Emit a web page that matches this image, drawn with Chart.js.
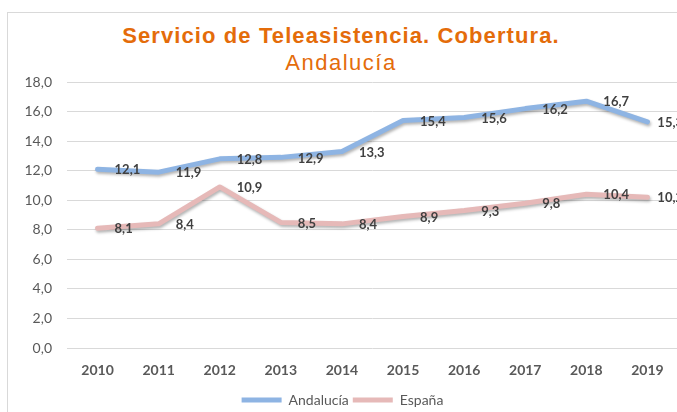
<!DOCTYPE html>
<html>
<head>
<meta charset="utf-8">
<script src="https://cdn.jsdelivr.net/npm/chart.js@4.4.1/dist/chart.umd.min.js"></script>
<style>
  body { margin: 0; overflow: hidden; background: #fff; width: 677px; height: 412px; position: relative; }
  #marco { position: absolute; left: 7px; top: 12px; width: 800px; height: 500px; border: 1px solid #d9d9d9; }
  .titulo { position: absolute; left: 0; width: 682px; text-align: center; color: #e46c0a;
            font-family: "Liberation Sans", Arial, sans-serif; font-size: 22px; line-height: 22px; }
  #t1 { top: 25px; font-weight: bold; letter-spacing: 1.1px; }
  #t2 { top: 52px; letter-spacing: 1.5px; }
  #caja { position: absolute; left: 0; top: 0; width: 720px; height: 417px; }
</style>
</head>
<body>
<div id="marco"></div>
<div class="titulo" id="t1">Servicio de Teleasistencia. Cobertura.</div>
<div class="titulo" id="t2">Andalucía</div>
<div id="caja"><canvas id="grafica"></canvas></div>
<script>
// Datos
const anios = ['2010', '2011', '2012', '2013', '2014', '2015', '2016', '2017', '2018', '2019'];
const andalucia = [12.1, 11.9, 12.8, 12.9, 13.3, 15.4, 15.6, 16.2, 16.7, 15.3];
const espana = [8.1, 8.4, 10.9, 8.5, 8.4, 8.9, 9.3, 9.8, 10.4, 10.2];
const ejeMin = 0;
const ejeMax = 18;
const ejePaso = 2;

const formato = v => v.toFixed(1).replace('.', ',');

// Sombra suave debajo de cada línea
const sombra = {
    id: 'sombra',
    beforeDatasetDraw(chart) {
        const c = chart.ctx;
        c.save();
        c.shadowColor = 'rgba(0,0,0,0.3)';
        c.shadowBlur = 3;
        c.shadowOffsetX = 1;
        c.shadowOffsetY = 2;
    },
    afterDatasetDraw(chart) {
        chart.ctx.restore();
    }
};

// Etiquetas de valor a la derecha de cada punto (sin salirse del área)
const etiquetas = {
    id: 'etiquetas',
    afterDatasetsDraw(chart) {
        const c = chart.ctx;
        const limite = chart.chartArea.right + 5;
        c.save();
        c.font = 'bold 13px Lato';
        c.fillStyle = '#404040';
        c.textAlign = 'left';
        c.textBaseline = 'middle';
        chart.data.datasets.forEach((ds, i) => {
            chart.getDatasetMeta(i).data.forEach((pt, j) => {
                const txt = formato(ds.data[j]);
                const x = Math.min(pt.x + 17, limite - c.measureText(txt).width);
                c.fillText(txt, x, pt.y + 1);
            });
        });
        c.restore();
    }
};

const ctx = document.getElementById('grafica').getContext('2d');
new Chart(ctx, {
    type: 'line',
    data: {
        labels: anios,
        datasets: [{
            label: 'Andalucía',
            data: andalucia,
            borderColor: 'rgb(142,180,227)',
            backgroundColor: 'rgb(142,180,227)',
            borderWidth: 5,
            pointRadius: 0,
            tension: 0,
            borderJoinStyle: 'round',
            borderCapStyle: 'round'
        }, {
            label: 'España',
            data: espana,
            borderColor: 'rgb(230,185,184)',
            backgroundColor: 'rgb(230,185,184)',
            borderWidth: 5,
            pointRadius: 0,
            tension: 0,
            borderJoinStyle: 'round',
            borderCapStyle: 'round'
        }]
    },
    options: {
        responsive: true,
        maintainAspectRatio: false,
        animation: false,
        layout: { padding: { left: 7, right: 42, top: 82, bottom: 0 } },
        plugins: {
            title: { display: false },
            tooltip: { enabled: false },
            legend: {
                position: 'bottom',
                labels: {
                    boxWidth: 40,
                    boxHeight: 5,
                    padding: 4,
                    color: '#595959',
                    font: { family: 'Lato', size: 14 },
                    generateLabels(chart) {
                        return chart.data.datasets.map((ds, i) => ({
                            text: ds.label,
                            fillStyle: ds.borderColor,
                            strokeStyle: ds.borderColor,
                            lineWidth: 0,
                            fontColor: '#595959',
                            datasetIndex: i
                        }));
                    }
                }
            }
        },
        scales: {
            x: {
                offset: true,
                grid: { display: false, drawTicks: false },
                border: { display: false },
                ticks: {
                    padding: 14,
                    color: '#595959',
                    font: { family: 'Lato', size: 14, weight: 'bold' }
                },
                afterFit(s) {
                    s.height = 417 - 348 - s.chart.legend.height;
                }
            },
            y: {
                min: ejeMin,
                max: ejeMax,
                border: { display: false },
                grid: { color: '#d9d9d9', drawTicks: false },
                ticks: {
                    stepSize: ejePaso,
                    padding: 15,
                    color: '#595959',
                    font: { family: 'Lato', size: 14 },
                    callback: v => formato(v)
                },
                afterFit(s) {
                    s.width = 60;
                }
            }
        }
    },
    plugins: [sombra, etiquetas]
});
</script>
</body>
</html>
